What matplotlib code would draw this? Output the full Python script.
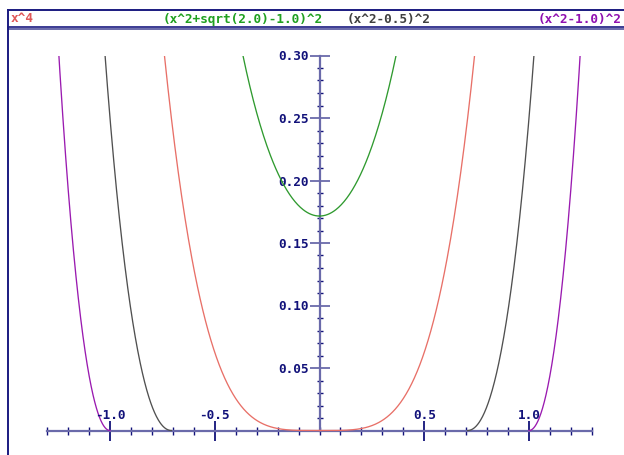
import numpy as np
import matplotlib
matplotlib.use("Agg")
import matplotlib.pyplot as plt
from matplotlib.lines import Line2D
from matplotlib.patches import Rectangle
from matplotlib.ticker import FixedLocator

# series (legend text, shift c in (x^2 + c)^2, colour)
names = ["x^4", "(x^2+sqrt(2.0)-1.0)^2", "(x^2-0.5)^2", "(x^2-1.0)^2"]
shifts = [0.0, np.sqrt(2.0) - 1.0, -0.5, -1.0]
colors = ["#e87068", "#2f9a2f", "#505050", "#9a1ab0"]
head_colors = ["#e05858", "#20a020", "#404040", "#9010b0"]
head_x = [11, 163, 347, 538]   # header text positions (px)

# axes
x_major = [-1.0, -0.5, 0.5, 1.0]
x_minor = np.round(np.arange(-1.3, 1.31, 0.1), 2)
y_major = [0.05, 0.10, 0.15, 0.20, 0.25, 0.30]
y_minor = np.round(np.arange(0.01, 0.30, 0.01), 2)
x_lab = ["-1.0", "-0.5", "0.5", "1.0"]
y_lab = ["0.05", "0.10", "0.15", "0.20", "0.25", "0.30"]

W, H = 624, 455
x0, sx = 319.5, 209.5     # pixel of x=0, px per unit
y0, sy = 430.5, 1250.0    # pixel of y=0, px per unit

navy = "#12127a"
axcol = "#6a6aaa"
mono = "DejaVu Sans Mono"
fs = 9.2

fig = plt.figure(figsize=(W / 100, H / 100), dpi=100)
ax = fig.add_axes([0, 0, 1, 1])
ax.set_xlim(-x0 / sx, (W - x0) / sx)
ax.set_ylim(-(H - y0) / sy, y0 / sy)

clip = Rectangle((-1.3, -0.02), 2.6, 0.32, transform=ax.transData)
for c, col in zip(shifts, colors):
    xs = np.linspace(np.sqrt(max(-c, 0.0)), 1.3, 400)
    for side in (-1, 1):
        xx = side * xs
        ln, = ax.plot(xx, (xx ** 2 + c) ** 2, color=col, lw=0.95, zorder=3)
        ln.set_clip_path(clip)

# centred axes
for s in ["top", "right"]:
    ax.spines[s].set_visible(False)
ax.spines["left"].set_position(("data", 0))
ax.spines["bottom"].set_position(("data", 0))
ax.spines["left"].set_bounds(0, 0.30)
ax.spines["bottom"].set_bounds(-1.3, 1.3)
for s in ["left", "bottom"]:
    ax.spines[s].set_color(axcol)
    ax.spines[s].set_linewidth(1.6)

ax.xaxis.set_major_locator(FixedLocator(x_major))
ax.xaxis.set_minor_locator(FixedLocator(x_minor))
ax.yaxis.set_major_locator(FixedLocator(y_major))
ax.yaxis.set_minor_locator(FixedLocator(y_minor))
ax.tick_params(axis="x", which="major", direction="inout", length=14, width=1.3, color=navy, labelbottom=False)
ax.tick_params(axis="x", which="minor", direction="inout", length=5.5, width=1.0, color=navy)
ax.tick_params(axis="y", which="major", direction="inout", length=15, width=1.3, color=axcol, pad=0,
               labelsize=fs, labelcolor=navy)
ax.tick_params(axis="y", which="minor", direction="inout", length=4, width=1.0, color=navy)
ax.set_yticklabels(y_lab, fontfamily=mono, fontweight="bold")

for v, t in zip(x_major, x_lab):
    ax.annotate(t, (v, 0), xytext=(0, 11), textcoords="offset points", ha="center", va="center",
                fontfamily=mono, fontweight="bold", fontsize=fs, color=navy)

# header box and frame
def px(x, y):
    return x / W, 1 - y / H

def hline(y, col, lw):
    a, b = px(8, y)
    fig.add_artist(Line2D([a, 1.02], [b, b], color=col, lw=lw))

hline(9.5, "#1a1a80", 1.4)
hline(27, "#1a1a80", 1.2)
hline(29, axcol, 1.4)
a, b = px(8.3, 9.5)
fig.add_artist(Line2D([a, a], [b, -0.02], color="#1a1a80", lw=1.4))

for t, c, hx in zip(names, head_colors, head_x):
    a, b = px(hx, 19)
    fig.text(a, b, t, ha="left", va="center", fontfamily=mono, fontweight="bold", fontsize=fs, color=c)

fig.savefig("out.png", dpi=100)
